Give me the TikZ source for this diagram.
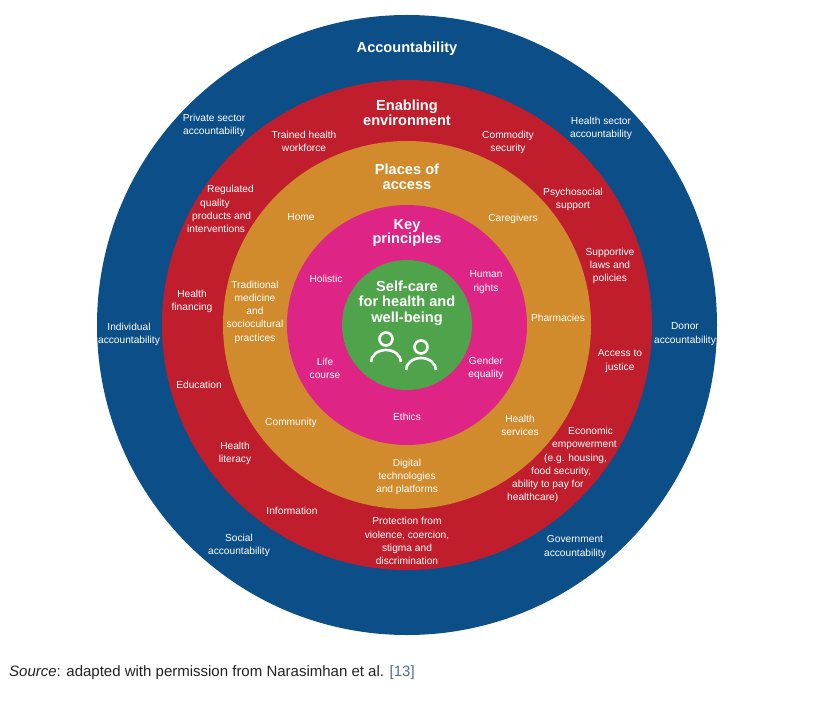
\documentclass[tikz,border=0pt]{standalone}
\usepackage{fontspec}
\setmainfont{Liberation Sans}
\usepackage{xcolor}
\usepackage{tikz}
\usetikzlibrary{positioning}

\definecolor{accblue}{RGB}{11,78,136}
\definecolor{envred}{RGB}{192,30,45}
\definecolor{placeorange}{RGB}{209,139,44}
\definecolor{keypink}{RGB}{222,37,133}
\definecolor{selfgreen}{RGB}{79,163,75}
\definecolor{linkgrey}{RGB}{80,110,140}

\begin{document}
\begin{tikzpicture}[x=1pt,y=-1pt,
    ringtitle/.style={white,font=\bfseries\fontsize{14.6}{14.8}\selectfont,align=center,inner sep=0pt},
    ringitem/.style={white,font=\fontsize{10.2}{13.2}\selectfont,align=center,inner sep=0pt}]
    \useasboundingbox (0,0) rectangle (819,703);
    % rings
    \fill [accblue] (407,325) circle (310);
    \fill [envred] (407,325) circle (245);
    \fill [placeorange] (407,325) circle (184);
    \fill [keypink] (407,325) circle (120);
    \fill [selfgreen] (407,325) circle (65);

    % accountability
    \node [ringtitle] (acc) at (407,49) {Accountability};
    \node [ringitem] (private) at (214,125) {Private sector\\accountability};
    \node [ringitem] (healthsec) at (601,128) {Health sector\\accountability};
    \node [ringitem] (individual) at (129,334) {Individual\\accountability};
    \node [ringitem] (donor) at (685,334) {Donor\\accountability};
    \node [ringitem] (social) at (239,545) {Social\\accountability};
    \node [ringitem] (government) at (575,547) {Government\\accountability};

    % enabling environment
    \node [ringtitle] (enabling) at (407,113) {Enabling\\environment};
    \node [ringitem] (workforce) at (304,141) {Trained health\\workforce};
    \node [ringitem] (commodity) at (508,142) {Commodity\\security};
    \node [ringitem,align=left,anchor=west] (regulated) at (187,209) {\hspace*{20pt}Regulated\\\hspace*{13pt}quality\\\hspace*{5pt}products and\\interventions};
    \node [ringitem] (psychosocial) at (573,199) {Psychosocial\\support};
    \node [ringitem] (laws) at (610,266) {Supportive\\laws and\\policies};
    \node [ringitem] (financing) at (192,301) {Health\\financing};
    \node [ringitem] (education) at (199,385) {Education};
    \node [ringitem] (justice) at (620,361) {Access to\\justice};
    \node [ringitem] (literacy) at (235,453) {Health\\literacy};
    \node [ringitem] (information) at (292,511) {Information};
    \node [ringitem] (protection) at (407,541) {Protection from\\violence, coercion,\\stigma and\\discrimination};
    \node [ringitem,align=left,anchor=west] (economic) at (507,465) {\hspace*{61pt}Economic\\\hspace*{45pt}empowerment\\\hspace*{37pt}(e.g. housing,\\\hspace*{24pt}food security,\\\hspace*{5pt}ability to pay for\\healthcare)};

    % places of access
    \node [ringtitle] (places) at (407,177) {Places of\\access};
    \node [ringitem] (home) at (301,217) {Home};
    \node [ringitem] (caregivers) at (513,219) {Caregivers};
    \node [ringitem] (traditional) at (255,312) {Traditional\\medicine\\and\\sociocultural\\practices};
    \node [ringitem] (pharmacies) at (558,318) {Pharmacies};
    \node [ringitem] (community) at (291,423) {Community};
    \node [ringitem] (services) at (520,425) {Health\\services};
    \node [ringitem] (digital) at (407,477) {Digital\\technologies\\and platforms};

    % key principles
    \node [ringtitle] (key) at (407,233) {Key\\principles};
    \node [ringitem] (holistic) at (326,279) {Holistic};
    \node [ringitem] (rights) at (486,282) {Human\\rights};
    \node [ringitem] (life) at (325,368) {Life\\course};
    \node [ringitem] (gender) at (486,368) {Gender\\equality};
    \node [ringitem] (ethics) at (407,417) {Ethics};

    % self-care
    \node [ringtitle,font=\bfseries\fontsize{14.6}{15.5}\selectfont] (selfcare) at (407,303) {Self-care\\for health and\\well-being};
    \foreach \px/\py in {386/339, 421/347} {
      \draw [white,line width=2.6pt] (\px,\py) circle (6.5);
      \draw [white,line width=2.6pt] (\px-15,\py+23) arc [start angle=180,end angle=360,x radius=15,y radius=12];
    }

    \node [anchor=west,inner sep=0pt,text=black!87,font=\fontsize{15}{15}\selectfont] (source) at (9,673) {\textit{Source}: adapted with permission from Narasimhan et al. {\color{linkgrey}[13]}};
  \end{tikzpicture}
\end{document}
